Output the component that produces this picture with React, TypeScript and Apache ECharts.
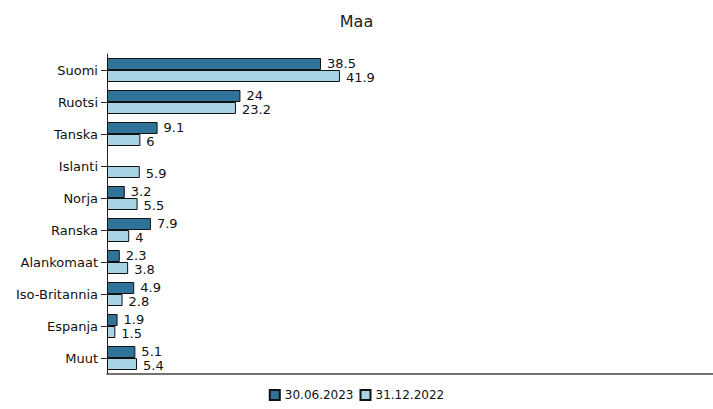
import React, { useEffect, useRef } from "react";
import * as echarts from "echarts";

const categories = ["Suomi", "Ruotsi", "Tanska", "Islanti", "Norja", "Ranska", "Alankomaat", "Iso-Britannia", "Espanja", "Muut"];
const series2023 = [38.5, 24, 9.1, null, 3.2, 7.9, 2.3, 4.9, 1.9, 5.1];
const series2022 = [41.9, 23.2, 6, 5.9, 5.5, 4, 3.8, 2.8, 1.5, 5.4];
const seriesNames = ["30.06.2023", "31.12.2022"];

const FONT = "DejaVu Sans";

export default function App() {
  const ref = useRef<HTMLDivElement>(null);
  useEffect(() => {
    const chart = echarts.init(ref.current!, null, { renderer: "svg" });
    const label = (dy: number) => ({
      show: true,
      position: "right" as const,
      distance: 6,
      offset: [0, dy],
      color: "#111",
      fontFamily: FONT,
      fontSize: 13,
    });
    chart.setOption({
      animation: false,
      title: {
        text: "Maa",
        left: "center",
        top: 8,
        textStyle: { fontFamily: FONT, fontSize: 16, fontWeight: "normal", color: "#222" },
      },
      legend: {
        bottom: 3,
        left: "center",
        itemWidth: 10,
        itemHeight: 10,
        itemGap: 6,
        textStyle: { fontFamily: FONT, fontSize: 12, color: "#111" },
        data: seriesNames.map((n) => ({ name: n, icon: "rect" })),
      },
      grid: { left: 107, right: 0, top: 54, bottom: 35 },
      xAxis: {
        type: "value",
        min: 0,
        max: 109,
        axisLine: { show: true, lineStyle: { color: "#444", width: 1.5 } },
        axisTick: { show: false },
        axisLabel: { show: false },
        splitLine: { show: false },
      },
      yAxis: {
        type: "category",
        inverse: true,
        data: categories,
        axisLine: { show: true, lineStyle: { color: "#222" } },
        axisTick: { show: true, length: 6, alignWithLabel: true, lineStyle: { color: "#222" } },
        axisLabel: { fontFamily: FONT, fontSize: 13, color: "#111", margin: 9 },
      },
      series: [
        {
          name: seriesNames[0],
          type: "bar",
          data: series2023,
          barGap: "0%",
          barCategoryGap: "25%",
          itemStyle: { color: "#2f7498", borderColor: "#111", borderWidth: 1 },
          label: label(-1),
        },
        {
          name: seriesNames[1],
          type: "bar",
          data: series2022,
          itemStyle: { color: "#a6d4e4", borderColor: "#111", borderWidth: 1 },
          label: label(1),
        },
      ],
    });
    return () => chart.dispose();
  }, []);
  return <div ref={ref} style={{ width: 713, height: 409, position: "absolute", left: 0, top: 0 }} />;
}
